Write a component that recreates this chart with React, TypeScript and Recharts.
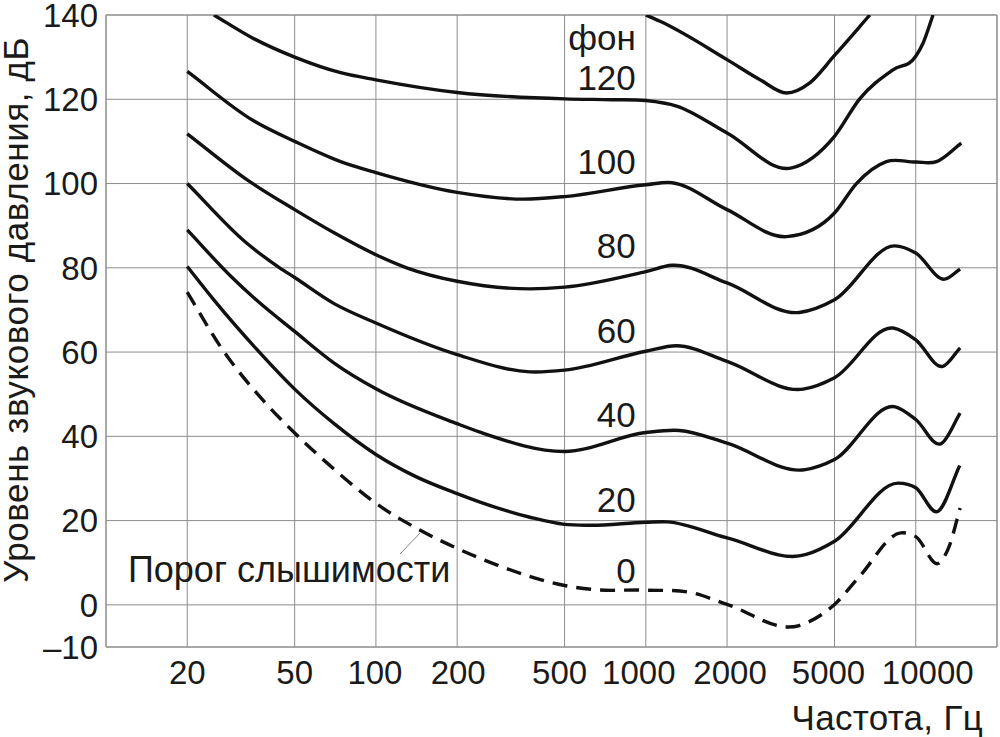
import React from "react";
import {
  LineChart,
  Line,
  XAxis,
  YAxis,
  CartesianGrid,
  ReferenceArea,
  ReferenceDot,
  ReferenceLine,
} from "recharts";

const FONT = "'Liberation Sans', Arial, sans-serif";
const INK = "#1a1a1a";
const GRID = "#8c8c8c";

// axis ticks
const freqTicks = [20, 50, 100, 200, 500, 1000, 2000, 5000, 10000];
const levelTicks = [-10, 0, 20, 40, 60, 80, 100, 120, 140];

// equal-loudness contours (Hz / dB)
const p130F = [1000, 1130, 2000, 2640, 3320, 4050, 5000, 6760];
const p130Db = [140, 138.5, 129.4, 124.7, 121.5, 123.9, 130.4, 140];

const p120F = [25.1, 35, 50, 74, 100, 200, 500, 750, 1000, 1300, 2000, 3470, 5000, 6200, 8240, 10000, 10640, 11590];
const p120Db = [140, 134.5, 130.0, 126.3, 124.6, 121.6, 120.1, 119.9, 119.7, 118.4, 112.0, 103.7, 111.2, 120.1, 127.0, 130.2, 133.3, 140];

const p100F = [20, 35, 50, 74, 100, 200, 351, 500, 1000, 1250, 2000, 3320, 5000, 6030, 7780, 10000, 11940, 14750];
const p100Db = [126.6, 115.0, 110.0, 105.2, 102.6, 97.9, 96.3, 96.9, 99.7, 100.2, 93.8, 87.4, 93.0, 100.0, 105.2, 105.1, 105.2, 109.6];

const p80F = [20, 34, 50, 70, 100, 130, 200, 372, 500, 1000, 1250, 2000, 3700, 5000, 8360, 10000, 12800, 14600];
const p80Db = [111.8, 100.5, 93.8, 88.3, 83.1, 80.0, 76.8, 75.0, 75.4, 79.1, 80.6, 76.4, 69.4, 72.4, 85.2, 83.5, 77.3, 79.7];

const p60F = [20, 33, 44, 50, 70, 100, 200, 372, 500, 1000, 1300, 2000, 3830, 5000, 8240, 10000, 12600, 14600];
const p60Db = [100.0, 86.0, 80.0, 77.7, 71.5, 66.9, 59.4, 55.3, 55.7, 60.2, 61.5, 57.8, 51.2, 53.9, 65.7, 62.9, 56.6, 61.0];

const p40F = [20, 29, 36, 50, 70, 100, 200, 243, 500, 1000, 1330, 2000, 3900, 5000, 8400, 10000, 12450, 14600];
const p40Db = [89.0, 78.0, 72.4, 64.9, 57.4, 51.3, 43.0, 41.0, 36.4, 40.9, 41.4, 38.4, 32.1, 34.5, 47.0, 44.0, 38.3, 45.5];

const p20F = [20, 25, 36, 50, 70, 100, 140, 200, 243, 372, 500, 620, 1000, 1200, 2000, 3900, 5000, 8600, 10000, 12100, 14550];
const p20Db = [80.3, 72.5, 60.8, 51.2, 43.0, 35.7, 30.5, 26.4, 24.4, 20.8, 19.1, 18.9, 19.6, 19.7, 15.9, 11.9, 15.1, 28.9, 27.8, 22.2, 33.1];

// threshold of hearing (dashed)
const thF = [20, 27, 38, 50, 70, 100, 146, 200, 280, 500, 650, 1000, 1500, 2000, 3700, 5000, 6200, 8800, 10000, 12300, 13300, 14600];
const thDb = [74.2, 60.6, 48.7, 40.8, 32.2, 24.1, 17.7, 13.4, 9.5, 4.6, 3.6, 3.5, 2.8, 0.1, -4.9, 0.1, 6.8, 17.1, 16.2, 10.1, 13.9, 23.0];

// curve labels
const phonLabels = ["фон", "120", "100", "80", "60", "40", "20", "0"];
const phonLabelDb = [131.7, 122.2, 102.3, 82.3, 62.1, 42.2, 22.0, 5.2];
const PHON_LABEL_F = 918;

const toPoints = (f: number[], db: number[]) => f.map((v, i) => ({ f: v, db: db[i] }));

const solidCurves = [
  { id: "p130", data: toPoints(p130F, p130Db) },
  { id: "p120", data: toPoints(p120F, p120Db) },
  { id: "p100", data: toPoints(p100F, p100Db) },
  { id: "p80", data: toPoints(p80F, p80Db) },
  { id: "p60", data: toPoints(p60F, p60Db) },
  { id: "p40", data: toPoints(p40F, p40Db) },
  { id: "p20", data: toPoints(p20F, p20Db) },
];
const threshold = toPoints(thF, thDb);

// smooth hermite curve through the points (3-point slopes, no clamping at extrema)
function smoothX(context: any) {
  let xs: number[] = [];
  let ys: number[] = [];
  return {
    areaStart() {},
    areaEnd() {},
    lineStart() {
      xs = [];
      ys = [];
    },
    point(x: number, y: number) {
      xs.push(+x);
      ys.push(+y);
    },
    lineEnd() {
      const n = xs.length;
      if (!n) return;
      context.moveTo(xs[0], ys[0]);
      if (n === 1) return;
      const d: number[] = [];
      for (let i = 0; i < n - 1; i++) d.push((ys[i + 1] - ys[i]) / (xs[i + 1] - xs[i]));
      const m = xs.map((_, i) => {
        if (i === 0) return d[0];
        if (i === n - 1) return d[n - 2];
        const h0 = xs[i] - xs[i - 1];
        const h1 = xs[i + 1] - xs[i];
        return (h1 * d[i - 1] + h0 * d[i]) / (h0 + h1);
      });
      for (let i = 0; i < n - 1; i++) {
        const h = (xs[i + 1] - xs[i]) / 3;
        context.bezierCurveTo(xs[i] + h, ys[i] + m[i] * h, xs[i + 1] - h, ys[i + 1] - m[i + 1] * h, xs[i + 1], ys[i + 1]);
      }
    },
  };
}

// labels on the frequency axis are squeezed a bit in the original
const tickNudge: Record<number, number> = { 100: -1, 200: 1, 500: -5, 1000: -7, 2000: 3, 5000: -6, 10000: 12 };

function FreqTick({ x, y, payload }: any) {
  return (
    <text
      x={x + (tickNudge[payload.value] ?? 0)}
      y={y}
      dy="0.71em"
      textAnchor="middle"
      fontSize={33}
      fontFamily={FONT}
      fill={INK}
    >
      {payload.value}
    </text>
  );
}

const fmtLevel = (v: number) => (v < 0 ? `\u2013${-v}` : String(v));

function textShape(label: string, anchor: "start" | "end", size = 35) {
  return (p: any) => (
    <text x={p.cx} y={p.cy} textAnchor={anchor} fontSize={size} fontFamily={FONT} fill={INK}>
      {label}
    </text>
  );
}

export default function App() {
  return (
    <div
      style={{
        position: "absolute",
        left: 0,
        top: 0,
        width: 1000,
        height: 737,
        background: "#fff",
        fontFamily: FONT,
      }}
    >
      <LineChart width={1000} height={737} margin={{ top: 15, right: 3, bottom: 30, left: 0 }}>
        <CartesianGrid stroke={GRID} strokeWidth={1} />
        <ReferenceArea x1={10} x2={20000} y1={-10} y2={140} fill="none" stroke={GRID} strokeWidth={1} fillOpacity={0} />
        <XAxis
          dataKey="f"
          type="number"
          scale="log"
          domain={[10, 20000]}
          ticks={freqTicks}
          interval={0}
          allowDataOverflow
          tickLine={false}
          axisLine={false}
          tickMargin={8}
          height={60}
          tick={<FreqTick />}
        />
        <YAxis
          type="number"
          domain={[-10, 140]}
          ticks={levelTicks}
          interval={0}
          allowDataOverflow
          tickLine={false}
          axisLine={false}
          width={106}
          tickFormatter={fmtLevel}
          tick={{ fontSize: 33, fill: INK, fontFamily: FONT }}
        />
        {solidCurves.map((c) => (
          <Line
            key={c.id}
            data={c.data}
            dataKey="db"
            type={smoothX as any}
            stroke="#111"
            strokeWidth={3.4}
            dot={false}
            activeDot={false}
            isAnimationActive={false}
          />
        ))}
        <Line
          data={threshold}
          dataKey="db"
          type={smoothX as any}
          stroke="#111"
          strokeWidth={3.4}
          strokeDasharray="15 9"
          dot={false}
          activeDot={false}
          isAnimationActive={false}
        />
        <ReferenceLine
          segment={[
            { x: 123, y: 12.1 },
            { x: 146, y: 17.1 },
          ]}
          stroke="#888"
          strokeWidth={1}
        />
        {phonLabels.map((t, i) => (
          <ReferenceDot key={t} x={PHON_LABEL_F} y={phonLabelDb[i]} r={0} shape={textShape(t, "end")} />
        ))}
        <ReferenceDot x={12.06} y={5.4} r={0} shape={textShape("Порог слышимости", "start", 36)} />
      </LineChart>
      <svg width={1000} height={737} style={{ position: "absolute", left: 0, top: 0, pointerEvents: "none" }}>
        <text x={983} y={730} textAnchor="end" fontSize={35} letterSpacing={0.3} fontFamily={FONT} fill={INK}>
          Частота, Гц
        </text>
        <text
          transform="translate(28,310) rotate(-90)"
          textAnchor="middle"
          fontSize={35}
          letterSpacing={0.6}
          fontFamily={FONT}
          fill={INK}
        >
          Уровень звукового давления, дБ
        </text>
      </svg>
    </div>
  );
}
